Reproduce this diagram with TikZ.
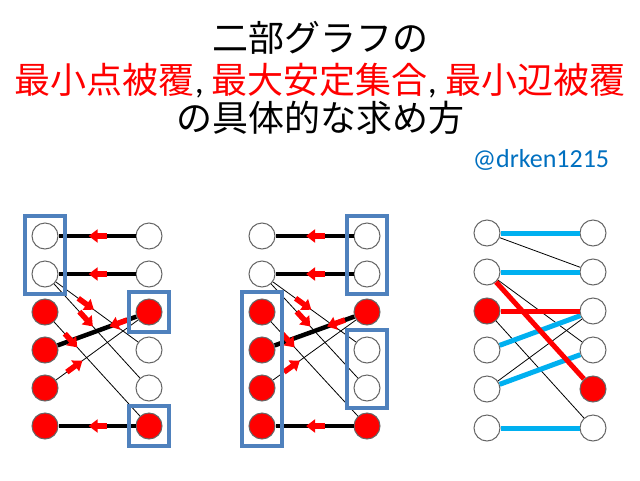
\documentclass[tikz,border=0pt]{standalone}
\usepackage{fontspec}
\setmainfont{Carlito}
\newfontfamily\jpfont{Noto Sans CJK JP}
\usetikzlibrary{arrows.meta,calc,fit}
\definecolor{boxblue}{RGB}{79,129,189}
\definecolor{skyline}{RGB}{0,176,240}
\definecolor{handle}{RGB}{0,112,192}
\begin{document}
\begin{tikzpicture}[x=1pt,y=-1pt,
  v/.style={circle,draw=black!60,line width=1pt,minimum size=26pt,inner sep=0pt,fill=white},
  matchedge/.style={draw=black,line width=4.5pt},
  thinedge/.style={draw=black,line width=0.8pt},
  blueedge/.style={draw=skyline,line width=5pt},
  rededge/.style={draw=red,line width=5pt},
  rarr/.style={draw=red,line width=5.5pt,-{Triangle[width=13pt,length=9pt]}},
  boxst/.style={draw=boxblue,line width=4pt,inner sep=6.5pt,rectangle},
  ttl/.style={anchor=base,font=\jpfont\fontsize{36}{40}\selectfont}]
\useasboundingbox[fill=white] (0,0) rectangle (640,480);

% title
\node[ttl] (t1) at (320,51) {二部グラフの};
\node[ttl,text=red] (t2) at (320,93) {最小点被覆{\rmfamily\color{black}, }最大安定集合{\rmfamily\color{black}, }最小辺被覆};
\node[ttl] (t3) at (320,131) {の具体的な求め方};
\node[anchor=base,text=handle,font=\fontsize{26}{30}\selectfont] (tw) at (541,167) {@drken1215};

% nodes of graphs 1 and 2
\foreach \i/\y/\lc/\rc in {1/236/white/white,2/274/white/white,3/312/red/red,4/350/red/white,5/388/red/white,6/426/red/red}{
  \node[v,fill=\lc] (aL\i) at (45,\y) {};
  \node[v,fill=\rc] (aR\i) at (149,\y) {};
  \node[v,fill=\lc] (bL\i) at (262,\y) {};
  \node[v,fill=\rc] (bR\i) at (367,\y) {};
}
% nodes of graph 3
\foreach \i/\y/\lc/\rc in {1/233/white/white,2/272/white/white,3/311/red/white,4/350/white/white,5/389/white/red,6/428/white/white}{
  \node[v,fill=\lc] (cL\i) at (487,\y) {};
  \node[v,fill=\rc] (cR\i) at (593,\y) {};
}

% edges of graphs 1 and 2
\foreach \g in {a,b}{
  \draw[thinedge] (\g L2) -- (\g R4);
  \draw[thinedge] (\g L2) -- (\g R5);
  \draw[thinedge] (\g L3) -- (\g R6);
  \draw[thinedge] (\g L5) -- (\g R3);
  \draw[matchedge] (\g L1) -- (\g R1);
  \draw[matchedge] (\g L2) -- (\g R2);
  \draw[matchedge] (\g L4) -- (\g R3);
  \draw[matchedge] (\g L6) -- (\g R6);
  % red arrows
  \draw[rarr] ($(\g L1)!0.60!(\g R1)$) -- ($(\g L1)!0.42!(\g R1)$);
  \draw[rarr] ($(\g L2)!0.60!(\g R2)$) -- ($(\g L2)!0.42!(\g R2)$);
  \draw[rarr] ($(\g L6)!0.60!(\g R6)$) -- ($(\g L6)!0.42!(\g R6)$);
  \draw[rarr] ($(\g L4)!0.79!(\g R3)$) -- ($(\g L4)!0.62!(\g R3)$);
  \draw[rarr] ($(\g L5)!0.21!(\g R3)$) -- ($(\g L5)!0.36!(\g R3)$);
  \draw[rarr] ($(\g L2)!0.32!(\g R4)$) -- ($(\g L2)!0.47!(\g R4)$);
  \draw[rarr] ($(\g L2)!0.33!(\g R5)$) -- ($(\g L2)!0.46!(\g R5)$);
  \draw[rarr] ($(\g L3)!0.19!(\g R6)$) -- ($(\g L3)!0.31!(\g R6)$);
}

% boxes
\node[boxst,fit=(aL1)(aL2)] (abox1) {};
\node[boxst,fit=(aR3)] (abox2) {};
\node[boxst,fit=(aR6)] (abox3) {};
\node[boxst,fit=(bR1)(bR2)] (bbox1) {};
\node[boxst,fit=(bL3)(bL6)] (bbox2) {};
\node[boxst,fit=(bR4)(bR5)] (bbox3) {};

% edges of graph 3
\draw[thinedge] (cL1) -- (cR2);
\draw[thinedge] (cL2) -- (cR4);
\draw[thinedge] (cL3) -- (cR6);
\draw[thinedge] (cL5) -- (cR3);
\draw[blueedge] (cL1) -- (cR1);
\draw[blueedge] (cL2) -- (cR2);
\draw[blueedge] (cL4) -- (cR3);
\draw[blueedge] (cL5) -- (cR4);
\draw[blueedge] (cL6) -- (cR6);
\draw[rededge] (cL3) -- (cR3);
\draw[rededge] (cL2) -- (cR5);
\end{tikzpicture}
\end{document}
